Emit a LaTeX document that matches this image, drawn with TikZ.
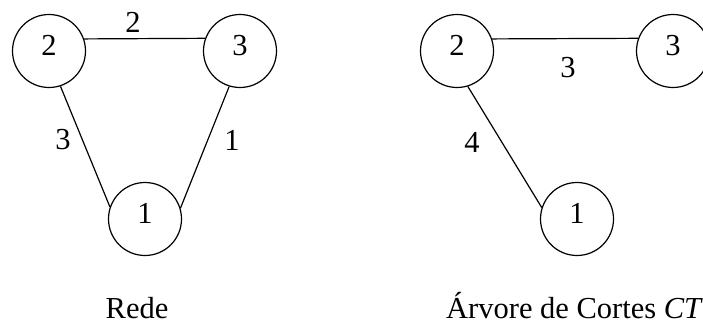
\documentclass[tikz,border=0pt]{standalone}
\usepackage{fontspec}
\setmainfont{Liberation Serif}
\begin{document}
\begin{tikzpicture}[x=1pt,y=-1pt,
  vtx/.style={circle,draw,line width=1.2pt,minimum size=73pt,inner sep=0pt,text depth=12pt,font=\fontsize{30.5}{35}\selectfont},
  lbl/.style={font=\fontsize{30.5}{35}\selectfont,inner sep=0pt},
  edge/.style={line width=1.2pt}]
\useasboundingbox (0,0) rectangle (703,323);
% Rede
\node[vtx] (a2) at (49,51) {2};
\node[vtx] (a3) at (240,51) {3};
\node[vtx] (a1) at (145,219) {1};
\draw[edge] (a2.19.5) -- (a3.160.5);
\draw[edge] (a2.-72.5) -- (a1.161.6);
\draw[edge] (a3.-107) -- (a1.17.4);
\node[lbl] (la) at (133,22) {2};
\node[lbl] (lb) at (63,140) {3};
\node[lbl] (lc) at (232,140) {1};
% Arvore
\node[vtx] (b2) at (457,51) {2};
\node[vtx] (b3) at (673,51) {3};
\node[vtx] (b1) at (577,219) {1};
\draw[edge] (b2.19.5) -- (b3.160.5);
\draw[edge] (b2.-73) -- (b1.162.5);
\node[lbl] (ld) at (568,68) {3};
\node[lbl] (le) at (472,142) {4};
% captions
\node[lbl,anchor=base] (c1) at (137,318) {Rede};
\node[lbl,anchor=base west] (c2) at (446,318) {Árvore de Cortes \textit{CT}};
\end{tikzpicture}
\end{document}
